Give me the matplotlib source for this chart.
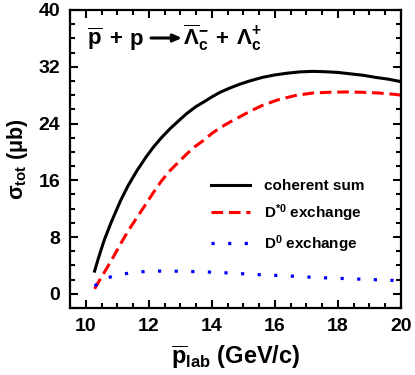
import matplotlib
matplotlib.use("Agg")
import matplotlib.pyplot as plt
from matplotlib.ticker import MultipleLocator

plt.rcParams['font.family'] = ['Liberation Sans', 'DejaVu Sans']
plt.rcParams['font.weight'] = 'bold'
plt.rcParams['mathtext.fontset'] = 'custom'
plt.rcParams['mathtext.rm'] = 'Liberation Sans:bold'
plt.rcParams['mathtext.it'] = 'Liberation Sans:bold'
plt.rcParams['mathtext.bf'] = 'Liberation Sans:bold'
plt.rcParams['mathtext.sf'] = 'Liberation Sans:bold'

# data
x_sum = [10.28, 10.4, 10.58, 10.8, 11.1, 11.35, 11.63, 11.9, 12.15, 12.4, 12.68, 13.0, 13.2, 13.5,
         13.73, 14.0, 14.26, 14.57, 14.89, 15.2, 15.6, 16.0, 16.4, 16.8, 17.2, 17.6, 18.0, 18.4,
         18.8, 19.2, 19.6, 20.0]
y_sum = [3.2, 5.0, 7.5, 10.0, 13.1, 15.3, 17.4, 19.2, 20.7, 22.0, 23.3, 24.6, 25.4, 26.4,
         27.0, 27.75, 28.4, 29.0, 29.55, 30.0, 30.5, 30.85, 31.1, 31.28, 31.35, 31.3, 31.2, 31.0,
         30.8, 30.5, 30.25, 29.9]

x_dstar = [10.28, 10.45, 10.68, 10.9, 11.1, 11.35, 11.63, 11.9, 12.15, 12.4, 12.68, 12.95, 13.2,
           13.45, 13.73, 14.0, 14.26, 14.57, 14.89, 15.2, 15.6, 16.1, 16.65, 17.2, 17.7, 18.3,
           18.8, 19.3, 19.83, 20.0]
y_dstar = [0.7, 2.0, 3.7, 5.4, 7.0, 8.9, 10.8, 12.6, 14.3, 15.9, 17.4, 18.6, 19.7,
           20.7, 21.6, 22.6, 23.4, 24.2, 24.95, 25.7, 26.55, 27.35, 27.95, 28.3, 28.4, 28.45,
           28.4, 28.3, 28.1, 28.0]

x_d0 = [10.28, 10.5, 10.73, 11.0, 11.2, 11.5, 11.74, 12.0, 12.26, 12.73, 13.26, 13.73, 14.26,
        14.67, 15.5, 16.5, 17.3, 18.5, 19.72, 20.0]
y_d0 = [1.1, 1.8, 2.3, 2.65, 2.8, 3.0, 3.1, 3.17, 3.2, 3.2, 3.15, 3.1, 3.0,
        2.9, 2.7, 2.5, 2.3, 2.1, 1.9, 1.85]

labels = ['coherent sum', r'D$^{*0}$ exchange', r'D$^{0}$ exchange']

W, H = 415, 375
L, R, T, B = 70, 401, 10, 308

fig = plt.figure(figsize=(W / 100, H / 100), dpi=100)
ax = fig.add_axes([L / W, 1 - B / H, (R - L) / W, (B - T) / H])


def ax_xy(px, py):
    return (px - L) / (R - L), (B - py) / (B - T)


ax.plot(x_sum, y_sum, color='black', lw=2.2, label=labels[0])
ax.plot(x_dstar, y_dstar, color='red', lw=2.2, dashes=(3.8, 1.9), label=labels[1])
ax.plot(x_d0, y_d0, color='blue', lw=2.3, dashes=(1, 4.2), label=labels[2])

ax.set_xlim(9.5, 20)
ax.set_ylim(-2, 40)
ax.xaxis.set_major_locator(MultipleLocator(2))
ax.xaxis.set_minor_locator(MultipleLocator(0.5))
ax.yaxis.set_major_locator(MultipleLocator(8))
ax.yaxis.set_minor_locator(MultipleLocator(2))
ax.tick_params(which='both', direction='in', top=True, right=True, width=1.5)
ax.tick_params(which='major', length=6, labelsize=14, pad=7)
ax.tick_params(which='minor', length=3.5)
for s in ax.spines.values():
    s.set_linewidth(1.6)
for lab in ax.get_xticklabels() + ax.get_yticklabels():
    lab.set_fontweight('bold')

ax.set_xlabel(r'$\overline{\mathrm{p}}_{\mathrm{lab}}$ (GeV/c)', fontsize=17, fontweight='bold', labelpad=6)
ax.set_ylabel(r'$\sigma_{\mathrm{tot}}$ ($\mu$b)', fontsize=15.5, fontweight='bold', labelpad=6)

# reaction label
tk = dict(transform=ax.transAxes, fontsize=16, fontweight='bold', va='baseline')
ax.text(*ax_xy(87, 45), r'$\overline{\mathrm{p}}$', ha='left', **tk)
ax.text(*ax_xy(116, 45), '+', ha='center', **tk)
ax.text(*ax_xy(130, 45), 'p', ha='left', **tk)
ax.annotate('', xy=ax_xy(182, 38), xytext=ax_xy(151, 38), xycoords='axes fraction',
            textcoords='axes fraction',
            arrowprops=dict(arrowstyle='-|>,head_length=0.5,head_width=0.22', lw=2.2,
                            color='black', shrinkA=0, shrinkB=0))
ax.text(*ax_xy(183, 45), r'$\overline{\Lambda}_{\mathrm{c}}^{-}$', ha='left', **tk)
ax.text(*ax_xy(222, 45), '+', ha='center', **tk)
ax.text(*ax_xy(236, 45), r'$\Lambda_{\mathrm{c}}^{+}$', ha='left', **tk)

leg = ax.legend(loc='upper left', bbox_to_anchor=ax_xy(211, 179), frameon=False, fontsize=11,
                handlelength=2.55, handletextpad=0.9, labelspacing=0.6, borderaxespad=0,
                borderpad=0)
for t in leg.get_texts():
    t.set_fontweight('bold')

fig.savefig('out.png', dpi=100)
